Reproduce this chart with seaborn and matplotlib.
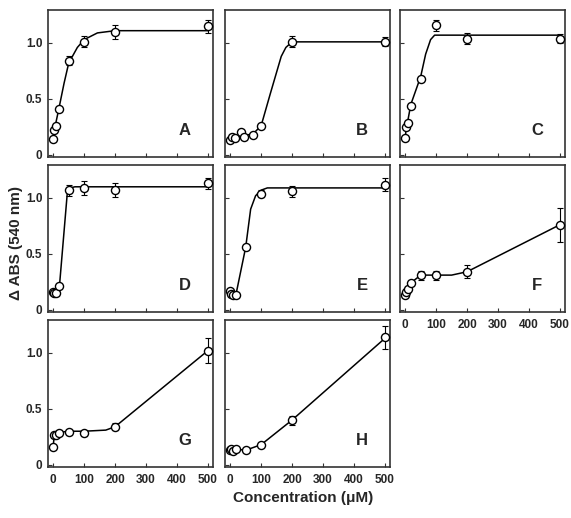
import numpy as np
import pandas as pd
import matplotlib
matplotlib.use("Agg")
import matplotlib.pyplot as plt
import seaborn as sns

sns.set_style("ticks")
plt.rcParams['font.family'] = ['Liberation Sans', 'DejaVu Sans']
plt.rcParams['font.weight'] = 'bold'

# measured points (conc in uM, delta ABS at 540 nm, error)
A_x = [0, 3, 8, 18, 50, 100, 200, 500]
A_y = [0.14, 0.22, 0.26, 0.41, 0.84, 1.01, 1.10, 1.15]
A_err = [0.01, 0.01, 0.01, 0.02, 0.04, 0.05, 0.06, 0.06]
B_x = [0, 5, 15, 35, 45, 75, 100, 200, 500]
B_y = [0.13, 0.16, 0.15, 0.20, 0.16, 0.18, 0.26, 1.01, 1.01]
B_err = [0.01, 0.01, 0.01, 0.01, 0.01, 0.01, 0.01, 0.05, 0.04]
C_x = [0, 3, 8, 18, 50, 100, 200, 500]
C_y = [0.15, 0.25, 0.28, 0.44, 0.68, 1.16, 1.04, 1.04]
C_err = [0.01, 0.01, 0.01, 0.01, 0.02, 0.05, 0.05, 0.04]
D_x = [0, 3, 8, 20, 50, 100, 200, 500]
D_y = [0.16, 0.15, 0.15, 0.21, 1.07, 1.09, 1.07, 1.13]
D_err = [0.01, 0.01, 0.01, 0.01, 0.05, 0.06, 0.06, 0.05]
E_x = [0, 3, 10, 18, 50, 100, 200, 500]
E_y = [0.17, 0.14, 0.13, 0.13, 0.56, 1.04, 1.06, 1.12]
E_err = [0.01, 0.01, 0.01, 0.01, 0.01, 0.03, 0.05, 0.06]
F_x = [0, 3, 8, 18, 50, 100, 200, 500]
F_y = [0.13, 0.16, 0.19, 0.24, 0.31, 0.31, 0.34, 0.76]
F_err = [0.01, 0.01, 0.01, 0.01, 0.04, 0.04, 0.06, 0.15]
G_x = [0, 3, 10, 20, 50, 100, 200, 500]
G_y = [0.16, 0.27, 0.27, 0.28, 0.29, 0.28, 0.34, 1.02]
G_err = [0.01, 0.01, 0.01, 0.01, 0.02, 0.02, 0.03, 0.11]
H_x = [0, 3, 8, 18, 50, 100, 200, 500]
H_y = [0.13, 0.14, 0.12, 0.14, 0.13, 0.18, 0.40, 1.14]
H_err = [0.01, 0.01, 0.01, 0.01, 0.01, 0.01, 0.04, 0.10]

# fitted curves
A_cx = [0, 3, 8, 18, 35, 50, 78, 100, 143, 200, 500]
A_cy = [0.14, 0.22, 0.28, 0.41, 0.64, 0.82, 0.96, 1.03, 1.09, 1.11, 1.11]
B_cx = [0, 15, 45, 75, 100, 130, 165, 180, 200, 500]
B_cy = [0.13, 0.15, 0.17, 0.19, 0.26, 0.55, 0.88, 0.96, 1.01, 1.01]
C_cx = [0, 3, 8, 18, 50, 66, 82, 95, 500]
C_cy = [0.15, 0.24, 0.30, 0.45, 0.70, 0.90, 1.03, 1.07, 1.07]
D_cx = [0, 8, 20, 45, 55, 70, 500]
D_cy = [0.16, 0.16, 0.21, 1.03, 1.09, 1.10, 1.10]
E_cx = [0, 3, 10, 18, 50, 66, 82, 100, 120, 500]
E_cy = [0.17, 0.14, 0.13, 0.13, 0.56, 0.90, 1.02, 1.07, 1.09, 1.09]
F_cx = [0, 3, 8, 18, 50, 100, 150, 200, 500]
F_cy = [0.13, 0.16, 0.19, 0.24, 0.31, 0.31, 0.31, 0.34, 0.76]
G_cx = [0, 3, 10, 20, 50, 100, 170, 200, 500]
G_cy = [0.16, 0.27, 0.28, 0.29, 0.30, 0.30, 0.31, 0.34, 1.02]
H_cx = [0, 18, 50, 100, 200, 500]
H_cy = [0.13, 0.14, 0.13, 0.18, 0.40, 1.13]

panels = [
    ("A", A_x, A_y, A_err, A_cx, A_cy),
    ("B", B_x, B_y, B_err, B_cx, B_cy),
    ("C", C_x, C_y, C_err, C_cx, C_cy),
    ("D", D_x, D_y, D_err, D_cx, D_cy),
    ("E", E_x, E_y, E_err, E_cx, E_cy),
    ("F", F_x, F_y, F_err, F_cx, F_cy),
    ("G", G_x, G_y, G_err, G_cx, G_cy),
    ("H", H_x, H_y, H_err, H_cx, H_cy),
]

W, H = 571, 518
fig = plt.figure(figsize=(W / 100, H / 100), dpi=100)
col_left = [48, 225, 400]
row_top = [10, 165, 320]
aw, ah = 165, 147

for i, (lab, x, y, err, cx, cy) in enumerate(panels):
    r, c = divmod(i, 3)
    ax = fig.add_axes([col_left[c] / W, 1 - (row_top[r] + ah) / H, aw / W, ah / H])
    sns.lineplot(x=cx, y=cy, ax=ax, color='black', lw=1.1, estimator=None, sort=False, zorder=2)
    ax.errorbar(x, y, yerr=err, fmt='none', ecolor='black', elinewidth=0.8, capsize=2, capthick=0.8, zorder=3)
    df = pd.DataFrame({"x": x, "y": y})
    sns.scatterplot(data=df, x="x", y="y", ax=ax, s=34, marker='o', facecolor='white',
                    edgecolor='black', linewidth=1.0, zorder=4)
    ax.set_xlim(-17, 517)
    ax.set_ylim(-0.02, 1.295)
    ax.set_xticks([0, 100, 200, 300, 400, 500])
    ax.set_yticks([0, 0.5, 1.0])
    ax.set_yticklabels(["0", "0.5", "1.0"])
    ax.tick_params(direction='in', length=3, width=0.8, labelsize=8.5, color='#333333')
    ax.tick_params(axis='x', pad=5)
    ax.tick_params(axis='y', pad=4)
    if c != 0:
        ax.tick_params(axis='y', labelleft=False)
    if lab not in ("F", "G", "H"):
        ax.tick_params(axis='x', labelbottom=False)
    for s in ax.spines.values():
        s.set_visible(True)
        s.set_linewidth(1.2)
        s.set_color('#333333')
    ax.set_xlabel("")
    ax.set_ylabel("")
    ax.text(0.83, 0.18, lab, transform=ax.transAxes, ha='center', va='center',
            fontsize=12, fontweight='bold')

fig.text(16 / W, 1 - 243 / H, "\u0394 ABS (540 nm)", rotation=90, ha='center', va='center',
         fontsize=11, fontweight='bold')
fig.text(303 / W, 1 - 498 / H, "Concentration (\u03bcM)", ha='center', va='center',
         fontsize=11, fontweight='bold')

fig.savefig("out.png", dpi=100)
